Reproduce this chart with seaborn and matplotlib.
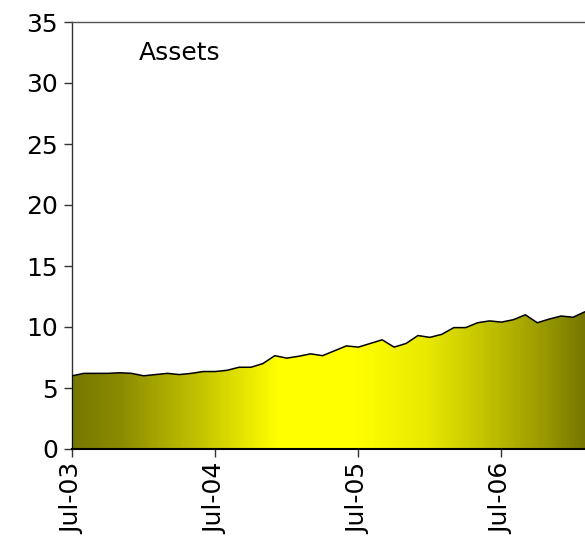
import numpy as np
import pandas as pd
import matplotlib
matplotlib.use("Agg")
import matplotlib.pyplot as plt
import seaborn as sns
from matplotlib.colors import LinearSegmentedColormap
from matplotlib.patches import Polygon

# monthly values, Jul-03 .. Feb-07
months = pd.date_range("2003-07-01", periods=44, freq="MS")
assets = [
    6.0, 6.2, 6.2, 6.2, 6.25, 6.2, 6.0, 6.1, 6.2, 6.1, 6.2, 6.35,
    6.35, 6.45, 6.7, 6.7, 7.0, 7.65, 7.45, 7.6, 7.8, 7.65, 8.05, 8.45,
    8.35, 8.65, 8.95, 8.35, 8.65, 9.3, 9.15, 9.4, 9.95, 9.95, 10.35, 10.5,
    10.4, 10.6, 11.0, 10.35, 10.65, 10.9, 10.8, 11.25,
]
tick_labels = ["Jul-03", "Jul-04", "Jul-05", "Jul-06"]
y_ticks = [0, 5, 10, 15, 20, 25, 30, 35]

df = pd.DataFrame({"idx": np.arange(len(assets)), "value": assets})

sns.set_style("white")
plt.rcParams["font.family"] = ["DejaVu Sans"]

fig = plt.figure(figsize=(5.85, 5.44), dpi=100)
ax = fig.add_axes([72 / 585, (544 - 449) / 544, (585 - 72) / 585, (449 - 22) / 544])

n = len(assets) - 1

# horizontal gradient fill, clipped to the area under the line
cmap = LinearSegmentedColormap.from_list(
    "olive_yellow",
    [(0.0, "#777700"), (0.09, "#8a8a00"), (0.25, "#c4c400"), (0.40, "#ffff00"),
     (0.556, "#ffff00"), (0.694, "#e8e800"), (0.825, "#bcbc00"),
     (0.922, "#999900"), (1.0, "#777700")],
)
grad = np.linspace(0, 1, 512).reshape(1, -1)
im = ax.imshow(grad, extent=[0, n, 0, 35], aspect="auto", cmap=cmap,
               origin="lower", zorder=1, interpolation="bilinear")
verts = [(0, 0)] + list(zip(df["idx"], df["value"])) + [(n, 0)]
poly = Polygon(verts, closed=True, facecolor="none", edgecolor="none")
ax.add_patch(poly)
im.set_clip_path(poly)

sns.lineplot(data=df, x="idx", y="value", color="black", linewidth=1.1, ax=ax, zorder=3)
ax.plot([0, 0], [0, assets[0]], color="black", linewidth=1.1, zorder=3)

ax.set_xlim(0, n)
ax.set_ylim(0, 35)
ax.set_xticks([0, 12, 24, 36])
ax.set_xticklabels(tick_labels, rotation=90, fontsize=18, color="black")
ax.set_yticks(y_ticks)
ax.set_yticklabels([str(v) for v in y_ticks], fontsize=18, color="black")
ax.set_xlabel("")
ax.set_ylabel("")
ax.tick_params(axis="both", direction="out", length=6, width=1, color="#333333",
               bottom=True, left=True, pad=4)

for side in ["left", "bottom", "top"]:
    ax.spines[side].set_visible(True)
    ax.spines[side].set_linewidth(1)
ax.spines["left"].set_color("#333333")
ax.spines["top"].set_color("#555555")
ax.spines["bottom"].set_color("black")
ax.spines["bottom"].set_linewidth(1.5)
ax.spines["right"].set_visible(False)

ax.text(5.6, 32.5, "Assets", fontsize=18, color="black", ha="left", va="center")

fig.savefig("out.png", dpi=100)
